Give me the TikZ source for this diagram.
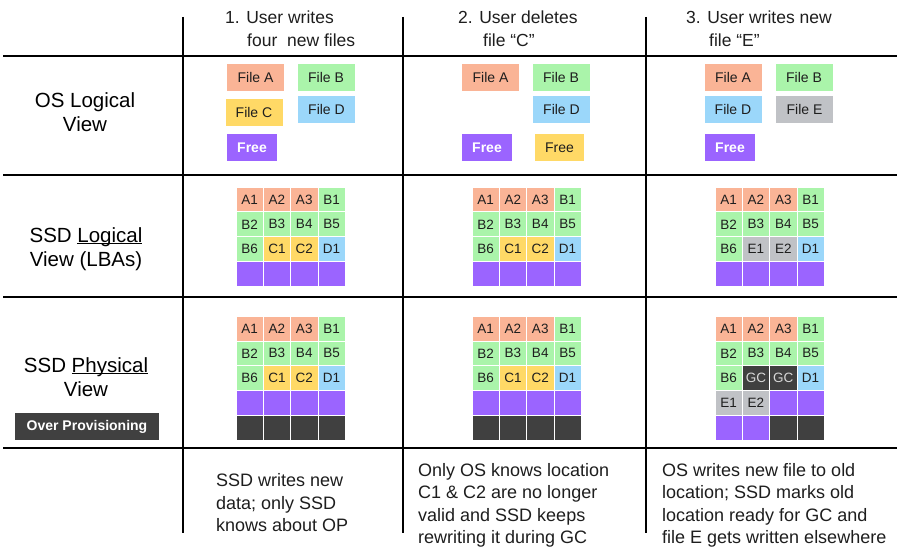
\documentclass[tikz,border=0pt]{standalone}
\usepackage{fontspec}
\setmainfont{Liberation Sans}

\definecolor{fileA}{RGB}{250,180,150}
\definecolor{fileB}{RGB}{170,244,170}
\definecolor{fileC}{RGB}{255,217,102}
\definecolor{fileD}{RGB}{155,215,250}
\definecolor{fileE}{RGB}{192,194,198}
\definecolor{freeblk}{RGB}{155,100,255}
\definecolor{opdark}{RGB}{64,64,64}
\definecolor{gclight}{RGB}{215,215,215}
\definecolor{inkgray}{RGB}{30,30,30}

\newcommand{\ulword}[1]{\underline{\smash{#1}}}

\newcommand{\ssdgrid}[4]{%
  \foreach \lbl/\kind [count=\i from 0] in {#4} {
    \pgfmathtruncatemacro{\cc}{mod(\i,4)}
    \pgfmathtruncatemacro{\rr}{floor(\i/4)}
    \node[cell, \kind] (#3-\i) at ({#1+13.65+\cc*27.3}, {#2+12.45+\rr*24.9}) {\lbl};
  }}

\begin{document}
\begin{tikzpicture}
            [x=1pt, y=-1pt, every node/.style={inner sep=0, text=inkgray},
             rule/.style={line width=2.8pt, black},
             filebox/.style={minimum width=57pt, minimum height=27pt, font=\fontsize{14}{16}\selectfont},
             freebox/.style={filebox, minimum width=50pt, fill=freeblk, text=white, font=\fontsize{14}{16}\selectfont\bfseries},
             cell/.style={draw=white, line width=0.8pt, minimum width=27.3pt, minimum height=24.9pt, font=\fontsize{13.5}{15}\selectfont},
             fa/.style={fill=fileA}, fb/.style={fill=fileB}, fc/.style={fill=fileC},
             fd/.style={fill=fileD}, fe/.style={fill=fileE}, fr/.style={fill=freeblk},
             op/.style={fill=opdark, text=gclight},
             colhead/.style={align=left, anchor=north west, font=\fontsize{17.5}{22.5}\selectfont},
             rowhead/.style={align=center, text=black, font=\fontsize{20.5}{24}\selectfont},
             note/.style={align=left, anchor=north west, font=\fontsize{18}{22.5}\selectfont}]

            \fill[white] (0,0) rectangle (900,547);

            \draw[rule] (3,56) -- (897,56);
            \draw[rule] (3,175) -- (897,175);
            \draw[rule] (3,297) -- (897,297);
            \draw[rule] (3,448) -- (897,448);
            \draw[rule] (183,17) -- (183,533);
            \draw[rule] (403,17) -- (403,533);
            \draw[rule] (646,17) -- (646,533);

            \node[colhead] (h1) at (225,11) {1. User writes\\\hspace*{22pt}four~ new files};
            \node[colhead] (h2) at (458,11) {2. User deletes\\\hspace*{25pt}file “C”};
            \node[colhead] (h3) at (686,11) {3. User writes new\\\hspace*{23pt}file “E”};

            \node[rowhead] (osview) at (85,112) {OS Logical\\View};
            \node[rowhead] (lbaview) at (86,249) {SSD \ulword{Logical}\\View (LBAs)};
            \node[rowhead] (physview) at (86,377) {SSD \ulword{Physical}\\View};
            \node[fill=opdark, text=white, minimum width=144pt, minimum height=27pt,
                  font=\fontsize{14}{16}\selectfont\bfseries] (opbox) at (87,426.5) {Over Provisioning};

            \node[filebox, fa] (a1) at (255.5,77.5) {File A};
            \node[filebox, fb] (b1) at (326,77.5) {File B};
            \node[filebox, fc] (c1) at (254,112.5) {File C};
            \node[filebox, fd] (d1) at (326.5,109.5) {File D};
            \node[freebox] (free1) at (252,148) {Free};

            \node[filebox, fa] (a2) at (490.5,77.5) {File A};
            \node[filebox, fb] (b2) at (561,77.5) {File B};
            \node[filebox, fd] (d2) at (561.5,109.5) {File D};
            \node[freebox] (free2) at (487,148) {Free};
            \node[filebox, fc, minimum width=49pt] (freec2) at (559.5,148) {Free};

            \node[filebox, fa] (a3) at (733,77.5) {File A};
            \node[filebox, fb] (b3) at (804,77.5) {File B};
            \node[filebox, fd] (d3) at (733,109.5) {File D};
            \node[filebox, fe] (e3) at (804.5,109.5) {File E};
            \node[freebox] (free3) at (730,148) {Free};

            \ssdgrid{236}{187}{lg1}{A1/fa,A2/fa,A3/fa,B1/fb,B2/fb,B3/fb,B4/fb,B5/fb,B6/fb,C1/fc,C2/fc,D1/fd,{}/fr,{}/fr,{}/fr,{}/fr}
            \ssdgrid{472}{187}{lg2}{A1/fa,A2/fa,A3/fa,B1/fb,B2/fb,B3/fb,B4/fb,B5/fb,B6/fb,C1/fc,C2/fc,D1/fd,{}/fr,{}/fr,{}/fr,{}/fr}
            \ssdgrid{715}{187}{lg3}{A1/fa,A2/fa,A3/fa,B1/fb,B2/fb,B3/fb,B4/fb,B5/fb,B6/fb,E1/fe,E2/fe,D1/fd,{}/fr,{}/fr,{}/fr,{}/fr}

            \ssdgrid{236}{316}{pg1}{A1/fa,A2/fa,A3/fa,B1/fb,B2/fb,B3/fb,B4/fb,B5/fb,B6/fb,C1/fc,C2/fc,D1/fd,{}/fr,{}/fr,{}/fr,{}/fr,{}/op,{}/op,{}/op,{}/op}
            \ssdgrid{472}{316}{pg2}{A1/fa,A2/fa,A3/fa,B1/fb,B2/fb,B3/fb,B4/fb,B5/fb,B6/fb,C1/fc,C2/fc,D1/fd,{}/fr,{}/fr,{}/fr,{}/fr,{}/op,{}/op,{}/op,{}/op}
            \ssdgrid{715}{316}{pg3}{A1/fa,A2/fa,A3/fa,B1/fb,B2/fb,B3/fb,B4/fb,B5/fb,B6/fb,GC/op,GC/op,D1/fd,E1/fe,E2/fe,{}/fr,{}/fr,{}/fr,{}/fr,{}/op,{}/op}

            \node[note] (n1) at (216,473.5) {SSD writes new\\data; only SSD\\knows about OP};
            \node[note] (n2) at (418,463) {Only OS knows location\\C1 \& C2 are no longer\\valid and SSD keeps\\rewriting it during GC};
            \node[note] (n3) at (662,463) {OS writes new file to old\\location; SSD marks old\\location ready for GC and\\file E gets written elsewhere};
          \end{tikzpicture}
\end{document}
